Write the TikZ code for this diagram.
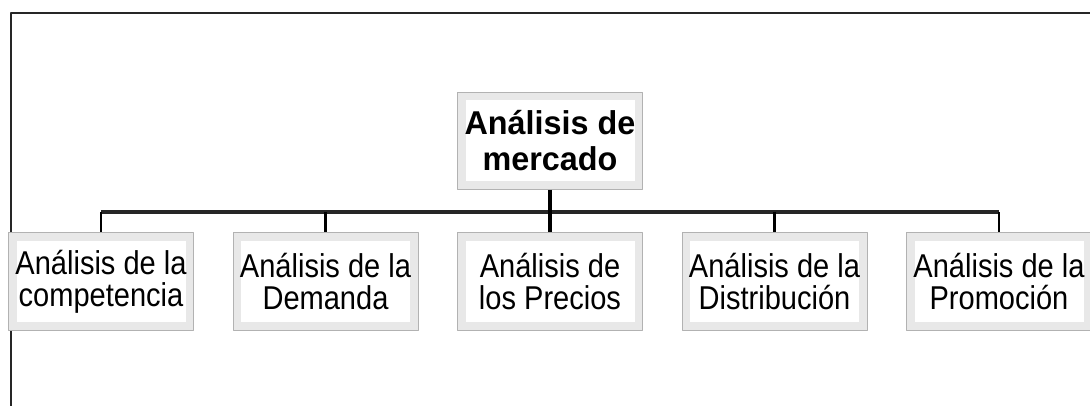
\documentclass[tikz,border=0pt]{standalone}
\usepackage{fontspec}
\setmainfont{Liberation Sans}[FakeStretch=0.88,BoldFeatures={FakeStretch=0.98}]
\tikzset{
  caja/.style={draw=gray!60, fill=gray!18, line width=1pt, minimum width=185pt,
    minimum height=97pt, inner sep=0pt, align=center,
    path picture={\fill[white] ([shift={(8pt,-8pt)}]path picture bounding box.north west)
      rectangle ([shift={(-8pt,8pt)}]path picture bounding box.south east);}},
  hijo/.style={caja, font=\fontsize{33}{32}\selectfont},
  raiz/.style={caja, font=\fontsize{33}{36}\selectfont\bfseries}
}
\begin{document}
\begin{tikzpicture}[x=1pt, y=-1pt, line join=round]
			\def\yh{281.5} \def\dx{224.5}
			\useasboundingbox (0,0) rectangle (1090,406);
			% marco
			\draw[line width=2.4pt, black!85] (11,406)--(11,13)--(1092,13);
			% nodos
			\node[raiz] (mercado) at (550,141) {Análisis de\\mercado};
			\node[hijo] (comp) at (550-2*\dx,\yh) {Análisis de la\\competencia};
			\node[hijo] (dem) at (550-\dx,\yh) {Análisis de la\\Demanda};
			\node[hijo] (prec) at (550,\yh) {Análisis de\\los Precios};
			\node[hijo] (dist) at (550+\dx,\yh) {Análisis de la\\Distribución};
			\node[hijo] (prom) at (550+2*\dx,\yh) {Análisis de la\\Promoción};
			% conectores
			\coordinate (barra) at (550,212);
			\draw[line width=4pt, black!85] (comp.north |- barra)--(prom.north |- barra);
			\draw[line width=4pt] (mercado.south)--(prec.north);
			\foreach \n in {comp,dem,dist,prom}
				\draw[line width=2.4pt] (\n.north |- barra)--(\n.north);
\end{tikzpicture}
\end{document}
